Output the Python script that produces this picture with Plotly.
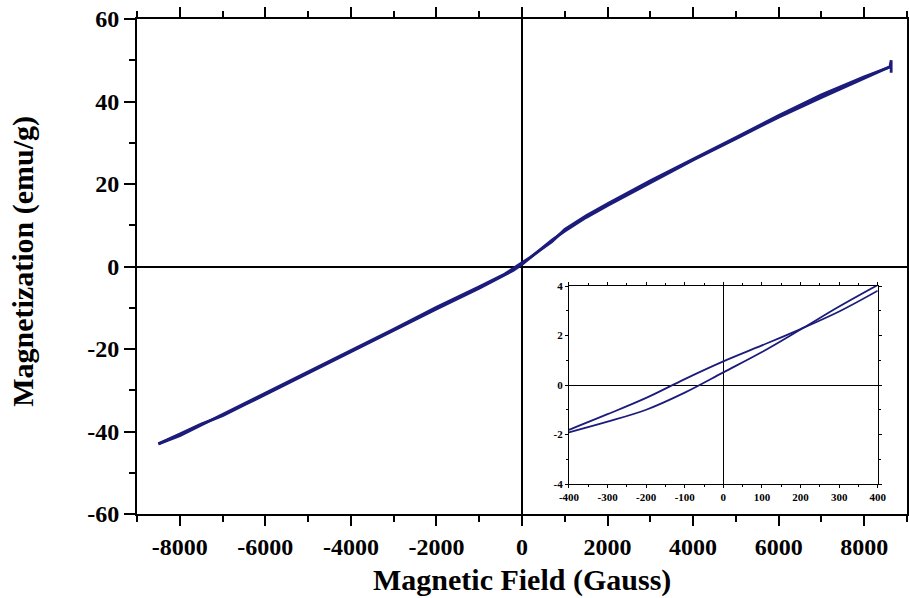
import plotly.graph_objects as go

# ---- main loop data (field in Gauss, magnetization in emu/g) ----
H_asc = [-8500, -8300, -8000, -7500, -7000, -6500, -6000, -5000, -4000, -3000, -2000, -1000,
         -400, -200, 0, 200, 400, 700, 1000, 1500, 2000, 3000, 4000, 5000, 6000, 7000, 7500, 8000,
         8400, 8600, 8630, 8630]
M_asc = [-43.0, -42.0, -40.6, -38.2, -36.2, -33.6, -31.0, -25.9, -20.8, -15.6, -10.3, -5.3,
         -1.9, -0.95, 0.5, 2.2, 4.05, 6.4, 8.6, 11.9, 14.8, 20.4, 25.8, 31.0, 36.2, 41.0, 43.3, 45.6,
         47.3, 48.4, 50.0, 47.0]
H_desc = [8630, 8400, 8000, 7000, 6000, 5000, 4000, 3000, 2000, 1500, 1000, 700, 400, 200, 0, -130, -200,
          -400, -1000, -2000, -3000, -4000, -5000, -6000, -7000, -8000, -8500]
M_desc = [48.5, 47.6, 46.0, 41.6, 36.6, 31.3, 26.1, 20.8, 15.2, 12.3, 9.0, 6.0, 3.81, 2.26, 0.95, 0.0, -0.52,
          -1.81, -4.9, -9.9, -15.2, -20.4, -25.6, -30.7, -35.8, -41.0, -43.0]

# ---- inset (low-field zoom) ----
h_in_a = [-400, -300, -200, -100, 0, 100, 200, 300, 400]
m_in_a = [-1.91, -1.48, -1.0, -0.31, 0.51, 1.33, 2.24, 3.17, 4.04]
h_in_b = [-400, -300, -200, -100, 0, 100, 200, 300, 400]
m_in_b = [-1.81, -1.18, -0.52, 0.24, 0.955, 1.6, 2.26, 2.97, 3.81]

x_ticks = [-8000, -6000, -4000, -2000, 0, 2000, 4000, 6000, 8000]
y_ticks = [-60, -40, -20, 0, 20, 40, 60]
xi_ticks = [-400, -300, -200, -100, 0, 100, 200, 300, 400]
yi_ticks = [-4, -2, 0, 2, 4]

x_title = "Magnetic Field (Gauss)"
y_title = "Magnetization (emu/g)"

navy = "#1c1c7c"
font_fam = "Liberation Serif"

fig = go.Figure()
fig.add_trace(go.Scatter(x=H_asc, y=M_asc, mode="lines", line=dict(color=navy, width=2.8),
                         showlegend=False, hoverinfo="skip"))
fig.add_trace(go.Scatter(x=H_desc, y=M_desc, mode="lines", line=dict(color=navy, width=2.8),
                         showlegend=False, hoverinfo="skip"))
fig.add_trace(go.Scatter(x=h_in_a, y=m_in_a, mode="lines", line=dict(color=navy, width=1.8, shape="spline"),
                         xaxis="x2", yaxis="y2", showlegend=False, hoverinfo="skip"))
fig.add_trace(go.Scatter(x=h_in_b, y=m_in_b, mode="lines", line=dict(color=navy, width=1.8, shape="spline"),
                         xaxis="x2", yaxis="y2", showlegend=False, hoverinfo="skip"))

axis_common = dict(showgrid=False, showline=True, linecolor="black", mirror="allticks",
                   ticks="outside", tickcolor="black", zeroline=True, zerolinecolor="black",
                   automargin=False)

fig.update_layout(
    width=909, height=598,
    margin=dict(l=137, r=2, t=19, b=84),
    paper_bgcolor="white", plot_bgcolor="white",
    font=dict(family=font_fam, color="black"),
    xaxis=dict(**axis_common, range=[-9000, 9000], tickvals=x_ticks,
               ticktext=[str(v) for v in x_ticks], linewidth=2, zerolinewidth=2,
               ticklen=10, tickwidth=2,
               minor=dict(dtick=1000, tick0=0, ticks="outside", ticklen=6, tickwidth=1.5, tickcolor="black"),
               tickfont=dict(size=24, family=font_fam, weight="bold")),
    yaxis=dict(**axis_common, range=[-60, 60], tickvals=y_ticks,
               ticktext=[str(v) for v in y_ticks], linewidth=2, zerolinewidth=2,
               ticklen=11, tickwidth=2,
               minor=dict(dtick=10, tick0=0, ticks="outside", ticklen=6, tickwidth=1.5, tickcolor="black"),
               tickfont=dict(size=24, family=font_fam, weight="bold")),
    xaxis2=dict(**axis_common, domain=[0.561, 0.962], anchor="y2", range=[-400, 400],
                tickvals=xi_ticks, ticktext=[str(v) for v in xi_ticks], linewidth=1, zerolinewidth=1,
                ticklen=3, tickwidth=1,
                minor=dict(dtick=50, tick0=0, ticks="outside", ticklen=2, tickcolor="black"),
                tickfont=dict(size=11, family=font_fam, weight="bold")),
    yaxis2=dict(**axis_common, domain=[0.0606, 0.4606], anchor="x2", range=[-4, 4],
                tickvals=yi_ticks, ticktext=[str(v) for v in yi_ticks], linewidth=1, zerolinewidth=1,
                ticklen=3, tickwidth=1,
                minor=dict(dtick=1, tick0=0, ticks="outside", ticklen=2, tickcolor="black"),
                tickfont=dict(size=11, family=font_fam, weight="bold")),
    annotations=[
        dict(text="<b>" + x_title + "</b>", xref="paper", yref="paper", x=0.5, y=-0.133,
             xanchor="center", yanchor="middle", showarrow=False,
             font=dict(size=30, family=font_fam, color="black")),
        dict(text="<b>" + y_title + "</b>", xref="paper", yref="paper", x=-0.149, y=0.51,
             xanchor="center", yanchor="middle", textangle=-90, showarrow=False,
             font=dict(size=30, family=font_fam, color="black")),
    ],
)

fig.write_html("out.html")
